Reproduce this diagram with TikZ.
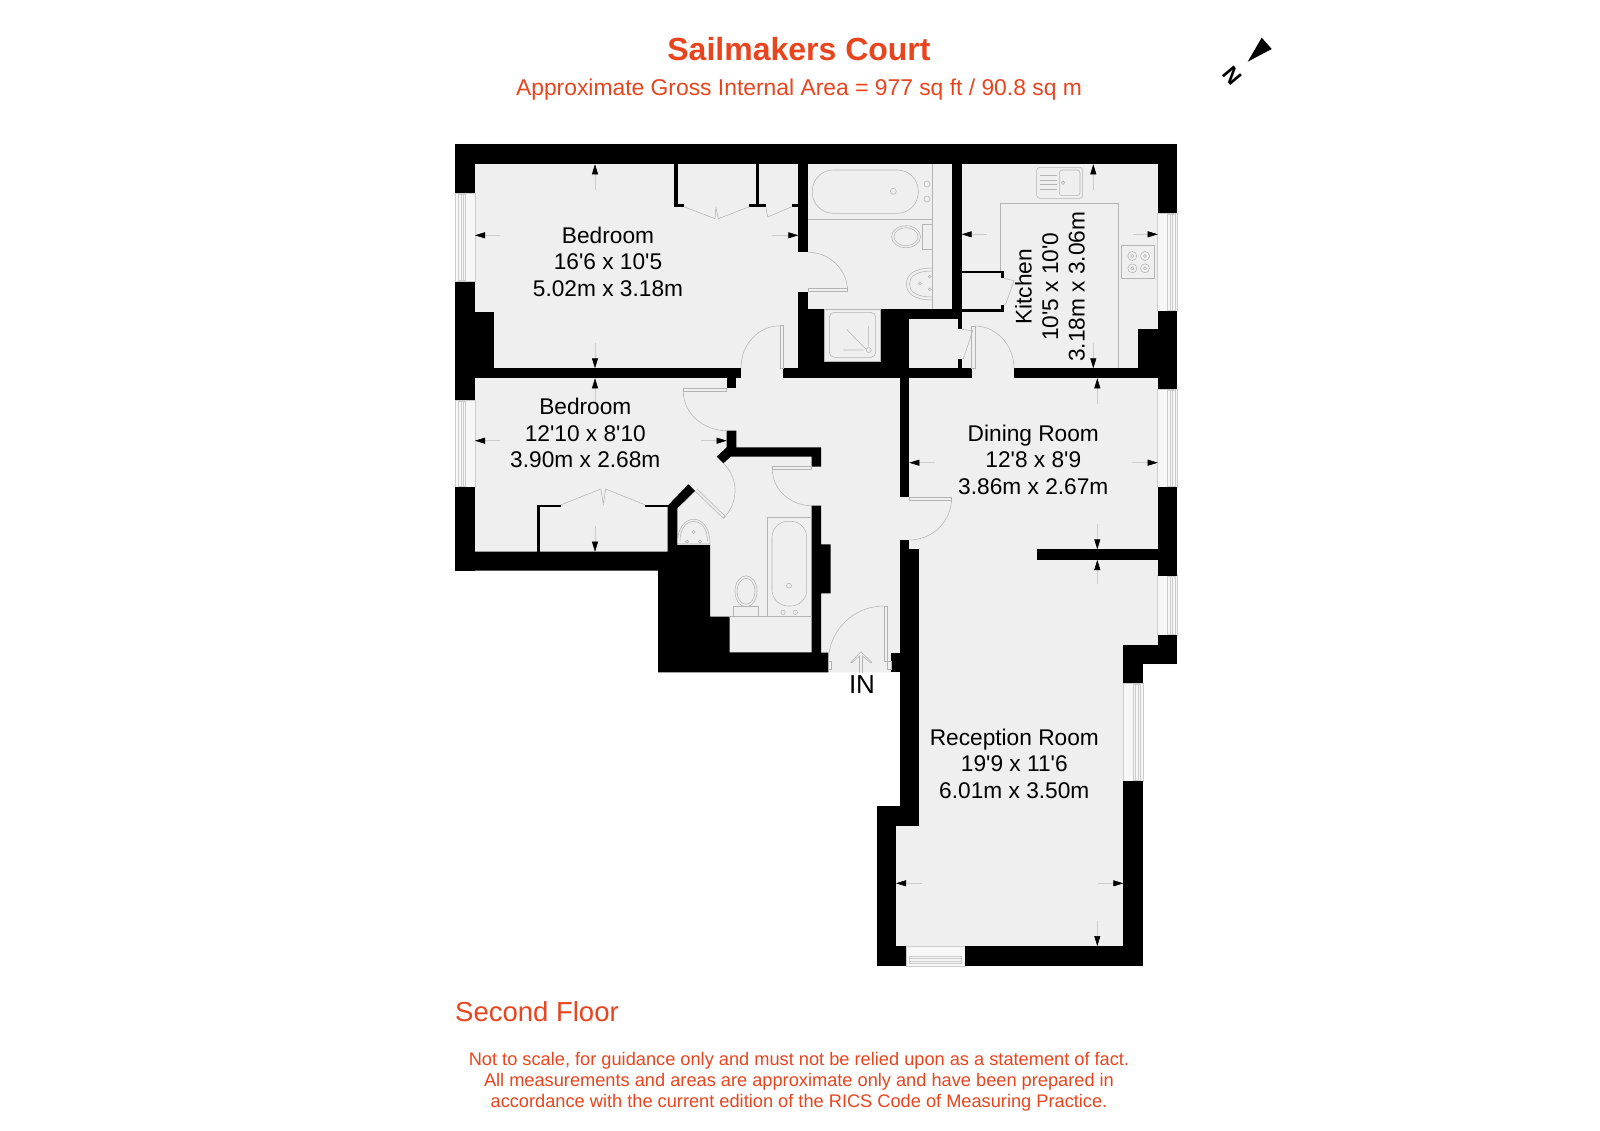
\documentclass[tikz,border=0pt]{standalone}
\usepackage{fontspec}
\setmainfont{Liberation Sans}
\usetikzlibrary{arrows.meta}
\definecolor{floorc}{HTML}{EFEFEF}
\definecolor{thin}{HTML}{B4B4B4}
\definecolor{pale}{HTML}{CCCCCC}
\definecolor{brand}{HTML}{E8451F}
\newcommand{\ap}{\textquotesingle}
\tikzset{
  wall/.style={fill=black,draw=none},
  fix/.style={draw=thin,line width=0.55pt},
  win/.style={draw=pale,line width=0.5pt},
  glass/.style={draw=pale,line width=0.6pt,fill=floorc!50!white},
  dimline/.style={draw=pale,line width=0.5pt,-{Triangle[length=10pt,width=6pt,fill=black,color=black]}},
  roomlabel/.style={inner sep=0pt,align=center,font=\fontsize{22.7}{26.4}\selectfont,text=black},
  brandtext/.style={inner sep=0pt,text=brand,align=center}
}
\begin{document}
\begin{tikzpicture}[x=1pt,y=-1pt]
\useasboundingbox (0,0) rectangle (1600,1131);
\fill[white] (0,0) rectangle (1600,1131);
% floor
\fill[floorc] (455,144) -- (1177.3,144) -- (1177.3,664) -- (1142.7,664) -- (1142.7,966) -- (876.7,966) -- (876.7,806) -- (900,806) -- (900,672.3) -- (658,672.3) -- (658,570.7) -- (455,570.7) -- cycle;
% windows
\foreach \a/\b in {193.3/281.7,400/487.3}{
  \draw[glass] (455,\a) rectangle (475,\b);
  \draw[win] (458.3,\a+1) rectangle (465.7,\b-1);
  \draw[win] (461,\a+1) -- (461,\b-1) (463.3,\a+1) -- (463.3,\b-1);
}
\foreach \a/\b in {213.3/311,389.3/487.3,575.7/635}{
  \draw[glass] (1157.7,\a) rectangle (1177.3,\b);
  \draw[win] (1167.7,\a+1) rectangle (1175,\b-1);
  \draw[win] (1170.3,\a+1) -- (1170.3,\b-1) (1172.7,\a+1) -- (1172.7,\b-1);
}
\draw[glass] (1123.3,683.3) rectangle (1143,781);
\draw[win] (1133.3,684.3) rectangle (1140,780);
\draw[win] (1135.7,684.3) -- (1135.7,780) (1138,684.3) -- (1138,780);
\draw[glass] (906,946) rectangle (965,966);
\draw[win] (909.3,956) rectangle (961.7,963.3);
\draw[win] (909.3,958.5) -- (961.7,958.5) (909.3,961) -- (961.7,961);
% walls
\fill[wall] (455,144) rectangle (1177.3,164.3);
\fill[wall] (455,144) rectangle (475,193.3);
\fill[wall] (455,281.7) rectangle (475,400);
\fill[wall] (475,312.3) rectangle (494.3,368.3);
\fill[wall] (455,368.3) rectangle (741,378.3);
\fill[wall] (455,487.3) rectangle (475,570.7);
\fill[wall] (674.3,164) rectangle (677.7,206.7);
\fill[wall] (674.3,204) rectangle (684,206.7);
\fill[wall] (756,164) rectangle (759,206.7);
\fill[wall] (749.3,204) rectangle (765.7,206.7);
\fill[wall] (792,204) rectangle (798.3,206.7);
\fill[wall] (798.3,164) rectangle (808.3,252.3);
\fill[wall] (798.3,291.7) rectangle (808.3,378);
\fill[wall] (808,309.3) rectangle (824.3,368.3);
\fill[wall] (824,361.7) rectangle (880,368.3);
\fill[wall] (880,309.3) rectangle (909.3,368.3);
\fill[wall] (880,309.3) rectangle (961.7,319.3);
\fill[wall] (952,164) rectangle (961.7,319.3);
\fill[wall] (783.3,368.3) rectangle (971.7,378.3);
\fill[wall] (958,319) rectangle (961.7,329.3);
\fill[wall] (958,358.7) rectangle (961.7,368.3);
\fill[wall] (961.7,271) rectangle (1004,273.3);
\fill[wall] (1000.7,271) rectangle (1004,278.3);
\fill[wall] (961.7,309.3) rectangle (1004,311.7);
\fill[wall] (1000.7,305) rectangle (1004,311.7);
\fill[wall] (1014,368.3) rectangle (1177.3,378.3);
\fill[wall] (1157.7,144) rectangle (1177.3,213.3);
\fill[wall] (1157.7,311) rectangle (1177.3,389.3);
\fill[wall] (1138.3,329.3) rectangle (1157.7,368.5);
\fill[wall] (1157.7,487.3) rectangle (1177.3,575.7);
\fill[wall] (1036.7,549.3) rectangle (1157.7,560);
\fill[wall] (1157.7,635) rectangle (1177.3,664);
\fill[wall] (1123.3,645) rectangle (1177.3,664);
\fill[wall] (1123.3,664) rectangle (1142.7,683.3);
\fill[wall] (1123.3,781) rectangle (1143,966);
\fill[wall] (876.7,946) rectangle (906,966);
\fill[wall] (965,946) rectangle (1143,966);
\fill[wall] (876.7,806) rectangle (896,966);
\fill[wall] (876.7,806) rectangle (919.3,825.7);
\fill[wall] (900,549.3) rectangle (919.3,825.7);
\fill[wall] (900,378) rectangle (909.3,497.3);
\fill[wall] (900,540) rectangle (909.3,549.3);
\fill[wall] (891.3,652.7) rectangle (900,672.3);
\fill[wall] (726.7,378) rectangle (736.3,388.3);
% bottom wall and bathroom block
\fill[wall] (455,551.7) -- (667.7,551.7) -- (667.7,505.7) -- (688.3,484.3) -- (695,491) -- (677.3,508.3) -- (677.3,545) -- (710,545) -- (710,616.7) -- (729.7,616.7) -- (729.7,652.3) -- (811.7,652.3) -- (811.7,505.7) -- (821,505.7) -- (821,544.3) -- (830.7,544.3) -- (830.7,593.3) -- (821,593.3) -- (821,652.7) -- (828.3,652.7) -- (828.3,672.3) -- (658,672.3) -- (658,570.7) -- (455,570.7) -- cycle;
\fill[wall] (726.7,430.7) -- (736.3,430.7) -- (736.3,447.3) -- (821,447.3) -- (821,466.7) -- (811.7,466.7) -- (811.7,456.7) -- (730.7,456.7) -- (723.3,463.3) -- (716.7,456.7) -- (726.7,447.3) -- cycle;
% bedroom 2 wardrobe
\fill[wall] (537,504.7) rectangle (540.3,551.7);
\fill[wall] (537,504.7) rectangle (561.3,507.3);
\fill[wall] (644.7,504.7) rectangle (667.7,507.3);
% wardrobe doors
\draw[fix] (684,206.7) -- (715,218.7) -- (716,207.3) -- (718.3,218.7) -- (749.3,206.7);
\draw[fix] (765.7,206.7) -- (767.7,217) -- (792,206.7);
\draw[fix] (561.3,504.7) -- (601,489) -- (603.3,504) -- (605.7,489) -- (644.7,504.7);
\draw[fix] (1004,278.3) -- (1014,280.7) -- (1006,303.3) -- (1004,305);
\draw[fix] (961.7,329.3) -- (972.7,330.7) -- (963.3,358.7) -- (961.7,358.7);
% door leaves and swings
\draw[fix] (780,325.7) rectangle (783.3,368);
\draw[fix] (781,325.7) .. controls (757.7,325.7) and (741,344.7) .. (741,368);
\draw[fix] (808.3,288.3) rectangle (847.7,291.7);
\draw[fix] (808.3,252.3) .. controls (830,252.3) and (847.7,270) .. (847.7,291.7);
\draw[fix] (683.3,388.3) rectangle (726.7,391.7);
\draw[fix] (683.3,391.7) .. controls (683.3,413) and (703,430.7) .. (726.7,430.7);
\draw[fix] (772.3,466.7) rectangle (811.7,469.3);
\draw[fix] (772.3,469.3) .. controls (772.3,489) and (790,505.7) .. (811.7,505.7);
\draw[fix] (909.3,497.3) rectangle (951.7,500.7);
\draw[fix] (951.7,497.3) .. controls (951.7,521) and (933,540) .. (909.3,540);
\draw[fix] (884,606) rectangle (887.3,661.7);
\draw[fix] (887.3,661.7) rectangle (891.3,669.3);
\draw[fix] (884,606) .. controls (853,606) and (828.3,631) .. (828.3,661.7);
\draw[fix] (828.3,661.7) rectangle (831.7,669.3);
\draw[fix] (971.7,326) rectangle (975,368.3);
\draw[fix] (975,326) .. controls (996,326) and (1014,345) .. (1014,368.3);
\draw[fix] (695,491) -- (723.3,518.3) -- (725.3,516.3) -- (697,489);
\draw[fix] (723.3,463.3) .. controls (739,478) and (739,503) .. (723.3,518.3);
% kitchen
\draw[fix] (1000.7,271) -- (1000.7,203.3) -- (1118.7,203.3) -- (1118.7,368.3);
\draw[fix,rounded corners=3pt] (1036.7,167.3) rectangle (1082.7,198.3);
\draw[fix,rounded corners=3pt] (1059.3,170) rectangle (1080,195.7);
\draw[fix] (1040,175.5) -- (1057,175.5) (1040,180) -- (1057,180) (1040,184.5) -- (1057,184.5) (1040,189) -- (1057,189);
\draw[fix] (1063,182.7) circle[radius=1.8pt];
\draw[fix] (1121.3,245.3) rectangle (1154.7,278.7);
\foreach \x in {1132.3,1145}{\foreach \y in {256,268.3}{
  \draw[fix] (\x,\y) circle[radius=4.5pt];
  \draw[fix] (\x,\y) circle[radius=1.5pt];
}}
% top bathroom
\draw[fix] (932.7,164.3) -- (932.7,309.3);
\draw[fix] (808.3,219) -- (932.7,219);
\draw[fix,rounded corners=21pt] (812.3,170) rectangle (918.3,213.3);
\draw[fix] (893.3,191.3) circle[radius=3pt];
\draw[fix] (927,184) circle[radius=3pt] (927,199) circle[radius=3pt];
\draw[fix] (922.3,224.3) rectangle (932.7,249.3);
\draw[fix] (906,236.7) ellipse[x radius=14.5pt,y radius=11pt];
\draw[fix] (906,236.7) ellipse[x radius=12pt,y radius=9pt];
\draw[fix] (932.7,268) .. controls (912,268) and (906.5,276) .. (906.5,284) .. controls (906.5,292) and (912,300) .. (932.7,300);
\draw[fix] (932.7,271) .. controls (915,271) and (909.5,277) .. (909.5,284) .. controls (909.5,291) and (915,297) .. (932.7,297);
\draw[fix] (920,283.7) circle[radius=1.6pt] (929.7,276.7) circle[radius=1.4pt] (929.7,289.3) circle[radius=1.4pt];
% shower
\draw[fix] (824.3,309.3) rectangle (880,361.7);
\draw[fix,rounded corners=5pt] (829.3,312.3) rectangle (875.7,357.3);
\draw[fix] (846.7,329.3) -- (866,349.3) (843.3,350) -- (863.3,350) (868.7,326) -- (868.7,346.7);
\draw[fix] (868.7,350) circle[radius=2.5pt];
% lower bathroom
\draw[fix] (677.3,544) .. controls (677.3,528) and (685,519.3) .. (693.7,519.3) .. controls (702.5,519.3) and (710,528) .. (710,544) -- cycle;
\draw[fix] (680,541) .. controls (680,529) and (686,521.5) .. (693.7,521.5) .. controls (701.5,521.5) and (707.5,529) .. (707.5,541);
\draw[fix] (693.7,532) circle[radius=1.6pt] (687,541.7) circle[radius=1.6pt] (700,541.7) circle[radius=1.6pt];
\draw[fix] (746,591.3) ellipse[x radius=11pt,y radius=15.5pt];
\draw[fix] (746,591.3) ellipse[x radius=9pt,y radius=13pt];
\draw[fix] (733.3,606.7) rectangle (758.7,616.7);
\draw[fix] (767.3,616.7) -- (767.3,517.3) -- (811.7,517.3);
\draw[fix] (729.7,616.7) -- (811.7,616.7);
\draw[fix,rounded corners=16pt] (772,521.3) rectangle (806.7,606);
\draw[fix] (789,585.7) circle[radius=2.5pt] (783,612.3) circle[radius=2.2pt] (795.3,612.3) circle[radius=2.2pt];
% dimension marks
\foreach \x/\s/\e in {595/190/164.3,595/343/368.3,595/403/378.3,595/526/551.7,1093.3/190/164.3,1093.3/343/368.3,1097.3/404/378.3,1097.3/524/549.3,1097.3/584/560,1097.3/921/946}{
  \draw[dimline] (\x,\s) -- (\x,\e);
}
\foreach \y/\s/\e in {235.3/500/475,235.3/772/798.3,234.3/987/961.7,234.3/1133/1157.7,440.7/500/475,440.7/701/726.7,462.7/935/909.3,462.7/1132/1157.7,883.3/922/896,883.3/1098/1123.3}{
  \draw[dimline] (\s,\y) -- (\e,\y);
}
% entrance arrow
\draw[fix] (859.5,673) -- (859.5,656) -- (851.5,663) -- (850.7,662.3) -- (861,651.7) -- (871.7,662.3) -- (870.9,663) -- (862.5,656) -- (862.5,673);
\node[inner sep=0pt,font=\fontsize{26}{30}\selectfont] (inlabel) at (862,684.7) {IN};
% labels
\node[roomlabel] (bedone) at (608,261.7) {Bedroom\\16\ap6 x 10\ap5\\5.02m x 3.18m};
\node[roomlabel] (bedtwo) at (585.3,433) {Bedroom\\12\ap10 x 8\ap10\\3.90m x 2.68m};
\node[roomlabel] (dining) at (1033.3,459.7) {Dining Room\\12\ap8 x 8\ap9\\3.86m x 2.67m};
\node[roomlabel] (reception) at (1014.3,763.5) {Reception Room\\19\ap9 x 11\ap6\\6.01m x 3.50m};
\node[roomlabel,rotate=90] (kitchen) at (1050,286.7) {Kitchen\\10\ap5 x 10\ap0\\3.18m x 3.06m};
% headings
\node[brandtext,font=\fontsize{32}{36}\bfseries\selectfont] (title) at (799,49) {Sailmakers Court};
\node[brandtext,font=\fontsize{22.85}{26}\selectfont] (subtitle) at (799,89.5) {Approximate Gross Internal Area = 977 sq ft / 90.8 sq m};
\node[brandtext,anchor=west,font=\fontsize{27.5}{32}\selectfont] (floorname) at (455,1011.5) {Second Floor};
\node[brandtext,font=\fontsize{18.22}{20.8}\selectfont] (note) at (799,1081.5) {Not to scale, for guidance only and must not be relied upon as a statement of fact.\\All measurements and areas are approximate only and have been prepared in\\accordance with the current edition of the RICS Code of Measuring Practice.};
% compass
\fill[black] (1261.7,37.7) -- (1271.7,49) -- (1247.7,61.7) -- cycle;
\node[inner sep=0pt,rotate=-50,font=\fontsize{22}{24}\bfseries\selectfont] (north) at (1232,76) {N};
\end{tikzpicture}
\end{document}
